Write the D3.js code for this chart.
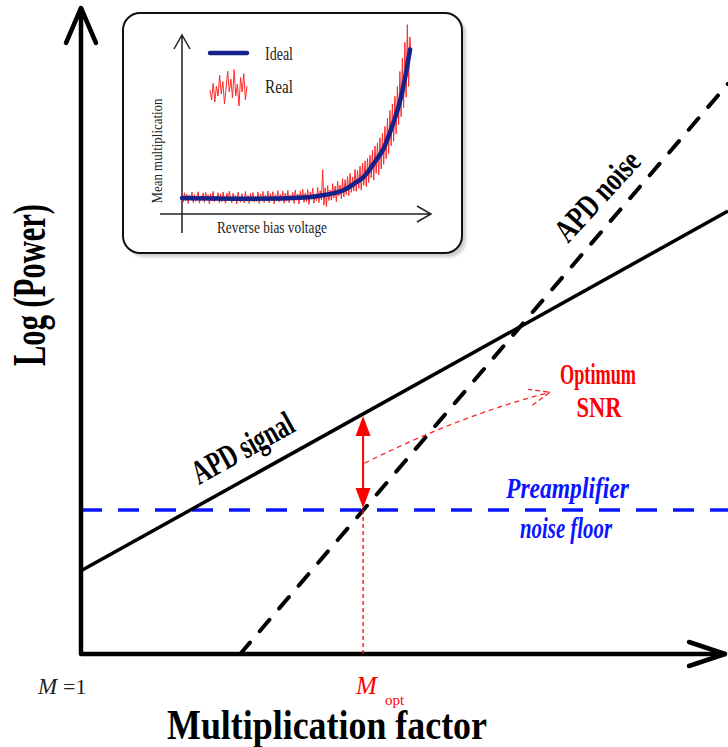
<!DOCTYPE html>
<html><head><meta charset="utf-8">
<script src="https://cdn.jsdelivr.net/npm/d3@7"></script>
<style>body{margin:0;background:#fff}svg{display:block}</style>
</head><body>
<svg id="c" width="728" height="747"></svg>
<script>
// ---------------- data ----------------
// main chart (arbitrary units: multiplication factor vs log power)
const multExtent   = [0, 10];
const signalMult   = [0, 10];
const signalPower  = [1.30, 6.92];
const noiseMult    = [2.46, 10];
const noisePower   = [0, 8.91];
const floorPower   = 2.25;
const mOpt         = 4.36;

// inset: mean multiplication vs reverse bias voltage
const idealVoltage = [0, 27, 51, 57, 65, 69.5, 73, 78, 81, 83.5, 85.5, 87.6, 89.6, 91.6];
const idealMult    = [9, 8.6, 9.5, 10.7, 13.6, 17.5, 21, 30.5, 37, 46, 54, 64, 77, 93];
const realStep     = 0.5;
const realMult = [
  10.5, 6.8, 12.0, 7.5, 11.2, 5.9, 10.8, 8.0, 12.4, 6.5,
  11.0, 7.2, 9.8, 12.6, 6.1, 10.2, 7.8, 11.9, 6.6, 12.2,
  8.3, 10.9, 5.8, 11.5, 7.4, 12.8, 6.9, 10.1, 8.5, 12.0,
  6.3, 11.3, 7.0, 12.5, 8.2, 6.0, 11.7, 7.6, 12.9, 9.0,
  6.4, 11.8, 7.9, 10.6, 5.7, 12.3, 8.8, 6.7, 11.4, 9.5,
  6.2, 12.7, 7.3, 10.4, 5.9, 11.6, 8.1, 12.1, 6.8, 10.0,
  7.1, 12.4, 6.0, 11.1, 8.6, 12.8, 6.5, 10.7, 7.7, 13.0,
  6.3, 11.5, 8.4, 12.6, 5.8, 10.9, 7.5, 13.2, 6.9, 11.0,
  8.0, 12.9, 6.1, 11.8, 7.2, 13.4, 6.4, 10.5, 8.7, 12.2,
  6.0, 13.5, 7.8, 11.3, 5.6, 12.9, 8.3, 14.0, 6.6, 11.9,
  7.0, 13.8, 5.4, 12.5, 8.9, 14.6, 6.2, 11.4, 7.5, 15.0,
  6.4, 13.2, 8.0, 25.0, 5.0, 14.8, 4.2, 16.0, 7.6, 13.5,
  7.8, 17.2, 9.0, 15.8, 6.9, 18.5, 10.2, 16.4, 8.5, 20.0,
  9.6, 19.4, 11.0, 21.2, 10.4, 23.0, 12.2, 20.8, 13.0, 25.2,
  12.8, 24.6, 14.6, 27.0, 13.5, 28.8, 16.2, 30.0, 15.4, 31.5,
  17.8, 33.2, 20.5, 36.0, 19.2, 38.4, 23.0, 40.2, 22.1, 43.0,
  25.5, 45.6, 28.0, 49.5, 31.2, 54.0, 34.0, 58.5, 38.6, 62.0,
  41.0, 66.5, 45.2, 72.0, 50.5, 80.5, 55.0, 88.0, 60.0, 97.0,
  66.0, 107.0, 72.0, 100.0, 90.0
];
const legendNoise = [0.45, 0.2, 0.62, 0.15, 0.55, 0.3, 0.82, 0.35, 0.66, 0.1, 0.5, 0.92,
                     0.4, 0.72, 0.25, 0.96, 0.3, 0.6, 0.05, 0.76, 0.4, 0.86, 0.2, 0.55];

const legendLabels = ["Ideal", "Real"];
const insetXLabel = "Reverse bias voltage";
const insetYLabel = "Mean multiplication";
const xTitle = "Multiplication factor";
const yTitle = "Log (Power)";

// ---------------- drawing ----------------
const serif = '"Liberation Serif","Times New Roman",serif';
const svg = d3.select("#c");
const x = d3.scaleLinear().domain(multExtent).range([81, 728]);
const y = d3.scaleLinear().domain([0, 10]).range([654, 14]);
const line = d3.line().x(d => x(d[0])).y(d => y(d[1]));

// ---- inset ----
const defs = svg.append("defs");
defs.append("filter").attr("id", "blur").append("feGaussianBlur").attr("stdDeviation", 1.5);
const ins = svg.append("g");
ins.append("rect").attr("x", 127).attr("y", 17).attr("width", 339).attr("height", 240)
  .attr("rx", 17).attr("fill", "#cfcfcf").attr("filter", "url(#blur)");
ins.append("rect").attr("x", 123).attr("y", 13).attr("width", 339).attr("height", 240)
  .attr("rx", 17).attr("fill", "#fff").attr("stroke", "#111").attr("stroke-width", 2);

const ix = d3.scaleLinear().domain([0, 100]).range([182, 431]);
const iy = d3.scaleLinear().domain([0, 100]).range([214, 37]);

// inset axes
ins.append("path").attr("d", `M${ix(0)},233 L${ix(0)},35 M${ix(0)-8},49 L${ix(0)},35 L${ix(0)+8},49`)
  .attr("fill", "none").attr("stroke", "#222").attr("stroke-width", 1.5);
ins.append("path").attr("d", `M160,${iy(0)} L431,${iy(0)} M417,${iy(0)-8} L431,${iy(0)} L417,${iy(0)+8}`)
  .attr("fill", "none").attr("stroke", "#222").attr("stroke-width", 1.5);

// real (noisy)
ins.append("path").datum(realMult)
  .attr("d", d3.line().x((d, i) => ix(i * realStep)).y(d => iy(d)))
  .attr("fill", "none").attr("stroke", "#ff2a2a").attr("stroke-width", 1);
// ideal
ins.append("path").datum(idealVoltage.map((v, i) => [v, idealMult[i]]))
  .attr("d", d3.line().curve(d3.curveMonotoneX).x(d => ix(d[0])).y(d => iy(d[1])))
  .attr("fill", "none").attr("stroke", "#14238c").attr("stroke-width", 4.5).attr("stroke-linecap", "round");

// legend
ins.append("line").attr("x1", 210).attr("x2", 247).attr("y1", 53).attr("y2", 53)
  .attr("stroke", "#14238c").attr("stroke-width", 4.5).attr("stroke-linecap", "round");
const lx = d3.scaleLinear().domain([0, legendNoise.length - 1]).range([210, 247]);
const ly = d3.scaleLinear().domain([0, 1]).range([108, 68]);
ins.append("path").datum(legendNoise)
  .attr("d", d3.line().x((d, i) => lx(i)).y(d => ly(d)))
  .attr("fill", "none").attr("stroke", "#ff2a2a").attr("stroke-width", 1);
ins.append("text").attr("x", 265).attr("y", 60).attr("font-family", serif).attr("font-size", 18)
  .attr("fill", "#222").attr("textLength", 28).attr("lengthAdjust", "spacingAndGlyphs").text(legendLabels[0]);
ins.append("text").attr("x", 265).attr("y", 93).attr("font-family", serif).attr("font-size", 18)
  .attr("fill", "#222").attr("textLength", 28).attr("lengthAdjust", "spacingAndGlyphs").text(legendLabels[1]);
ins.append("text").attr("transform", "translate(162,151) rotate(-90)").attr("text-anchor", "middle")
  .attr("font-family", serif).attr("font-size", 15).attr("fill", "#222")
  .attr("textLength", 105).attr("lengthAdjust", "spacingAndGlyphs").text(insetYLabel);
ins.append("text").attr("x", 272).attr("y", 233).attr("text-anchor", "middle")
  .attr("font-family", serif).attr("font-size", 16).attr("fill", "#222")
  .attr("textLength", 110).attr("lengthAdjust", "spacingAndGlyphs").text(insetXLabel);

// ---- main chart ----
// noise floor (blue dashed)
svg.append("path").datum([[multExtent[0], floorPower], [multExtent[1], floorPower]])
  .attr("d", line).attr("fill", "none").attr("stroke", "#0a14ff").attr("stroke-width", 3.5)
  .attr("stroke-dasharray", "21,16");
// APD signal
svg.append("path").datum(signalMult.map((m, i) => [m, signalPower[i]]))
  .attr("d", line).attr("fill", "none").attr("stroke", "#000").attr("stroke-width", 3.5);
// APD noise (dashed)
svg.append("path").datum(noiseMult.map((m, i) => [m, noisePower[i]]))
  .attr("d", line).attr("fill", "none").attr("stroke", "#000").attr("stroke-width", 4)
  .attr("stroke-dasharray", "15,15").attr("stroke-linecap", "round");

// axes with open arrowheads
const x0 = x(multExtent[0]), yb = y(0);
svg.append("path").attr("d", `M${x0},8 L${x0},${yb} L726,${yb}`)
  .attr("fill", "none").attr("stroke", "#000").attr("stroke-width", 4.5).attr("stroke-linejoin", "round");
svg.append("path").attr("d", `M${x0-15},43 L${x0},8 L${x0+15},43`)
  .attr("fill", "none").attr("stroke", "#000").attr("stroke-width", 4.5).attr("stroke-linecap", "round").attr("stroke-linejoin", "round");
svg.append("path").attr("d", `M689,${yb-12} L725,${yb} L689,${yb+12}`)
  .attr("fill", "none").attr("stroke", "#000").attr("stroke-width", 4.5).attr("stroke-linecap", "round").attr("stroke-linejoin", "round");

// optimum: double arrow between signal and noise floor at M_opt
const sigAtOpt = signalPower[0] + (signalPower[1] - signalPower[0]) * (mOpt - signalMult[0]) / (signalMult[1] - signalMult[0]);
const ax = x(mOpt), aTop = y(sigAtOpt) + 2, aBot = y(floorPower) - 2;
svg.append("line").attr("x1", ax).attr("x2", ax).attr("y1", aTop + 18).attr("y2", aBot - 18)
  .attr("stroke", "#ff0000").attr("stroke-width", 2);
svg.append("path").attr("d", `M${ax},${aTop} L${ax-7.5},${aTop+20} L${ax+7.5},${aTop+20}Z`).attr("fill", "#ff0000");
svg.append("path").attr("d", `M${ax},${aBot} L${ax-7.5},${aBot-20} L${ax+7.5},${aBot-20}Z`).attr("fill", "#ff0000");
// dotted drop line to M_opt
svg.append("line").attr("x1", ax).attr("x2", ax).attr("y1", y(floorPower)).attr("y2", yb)
  .attr("stroke", "#ff0000").attr("stroke-width", 1.3).attr("stroke-dasharray", "4,3");

// curved dashed arrow to "Optimum SNR"
const snrArrow = { from: [mOpt + 0.02, 2.98], ctrl: [5.86, 3.73], to: [7.25, 4.09] };
const p0 = [x(snrArrow.from[0]), y(snrArrow.from[1])];
const pc = [x(snrArrow.ctrl[0]), y(snrArrow.ctrl[1])];
const p1 = [x(snrArrow.to[0]), y(snrArrow.to[1])];
svg.append("path").attr("d", `M${p0} Q${pc} ${p1}`).attr("fill", "none")
  .attr("stroke", "#ff2020").attr("stroke-width", 1.3).attr("stroke-dasharray", "5,4");
const ang = Math.atan2(p1[1] - pc[1], p1[0] - pc[0]);
const w1 = [p1[0] - 22 * Math.cos(ang - 0.38), p1[1] - 22 * Math.sin(ang - 0.38)];
const w2 = [p1[0] - 22 * Math.cos(ang + 0.38), p1[1] - 22 * Math.sin(ang + 0.38)];
svg.append("path").attr("d", `M${w1} L${p1} L${w2}`).attr("fill", "none")
  .attr("stroke", "#ff2020").attr("stroke-width", 1.3).attr("stroke-dasharray", "5,3");

// ---- labels ----
function label(txt, xx, yy, size, len, opts = {}) {
  return svg.append("text").attr("font-family", serif).attr("font-size", size)
    .attr("font-weight", opts.weight || "bold").attr("font-style", opts.style || "normal")
    .attr("fill", opts.fill || "#000").attr("textLength", len).attr("lengthAdjust", "spacingAndGlyphs")
    .attr("text-anchor", opts.anchor || "start")
    .attr("transform", `translate(${xx},${yy}) rotate(${opts.rot || 0})`).text(txt);
}
label("APD signal", 199, 485, 34, 112, { rot: -29 });
label("APD noise", 568, 244, 33, 110, { rot: -47.5 });
label("Optimum", 560, 384, 29, 76, { fill: "#ff0000" });
label("SNR", 599, 417, 29, 45, { fill: "#ff0000", anchor: "middle" });
label("Preamplifier", 506, 498, 29, 123, { fill: "#0a14ff", style: "italic" });
label("noise floor", 520, 538, 29, 92, { fill: "#0a14ff", style: "italic" });
label(yTitle, 45, 285, 47, 162, { rot: -90, anchor: "middle" });
label(xTitle, 327, 739, 42, 320, { anchor: "middle" });

// x-axis end labels
svg.append("text").attr("x", 38).attr("y", 694).attr("font-family", serif)
  .attr("font-size", 23).attr("font-style", "italic").attr("fill", "#222").text("M");
svg.append("text").attr("x", 63).attr("y", 694).attr("font-family", serif)
  .attr("font-size", 22).attr("fill", "#222").text("=1");
svg.append("text").attr("x", ax - 7).attr("y", 694).attr("font-family", serif)
  .attr("font-size", 25).attr("font-style", "italic").attr("fill", "#ff0000").text("M");
svg.append("text").attr("x", ax + 22).attr("y", 705).attr("font-family", serif)
  .attr("font-size", 15).attr("fill", "#ff0000").text("opt");
</script>
</body></html>
